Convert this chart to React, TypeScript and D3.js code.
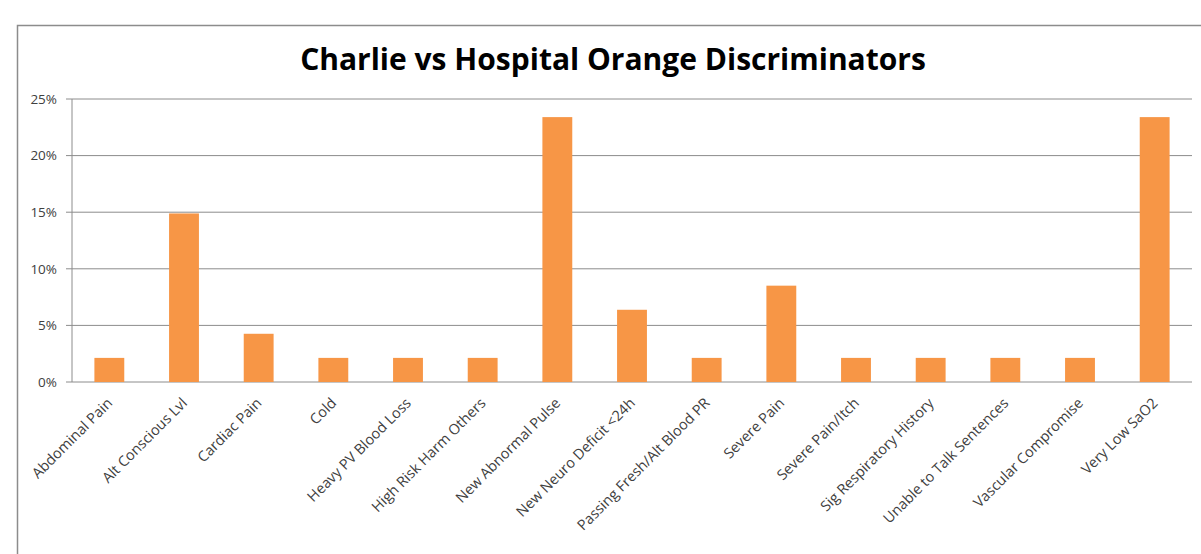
import React from "react";
import * as d3 from "d3";

// Share of orange-category discriminators, Charlie vs Hospital (percent)
const categories: string[] = [
  "Abdominal Pain",
  "Alt Conscious Lvl",
  "Cardiac Pain",
  "Cold",
  "Heavy PV Blood Loss",
  "High Risk Harm Others",
  "New Abnormal Pulse",
  "New Neuro Deficit <24h",
  "Passing Fresh/Alt Blood PR",
  "Severe Pain",
  "Severe Pain/Itch",
  "Sig Respiratory History",
  "Unable to Talk Sentences",
  "Vascular Compromise",
  "Very Low SaO2",
];

const shares: number[] = [
  2.13, 14.89, 4.26, 2.13, 2.13, 2.13, 23.4, 6.38, 2.13, 8.51, 2.13, 2.13, 2.13,
  2.13, 23.4,
];

const yTicks: number[] = [0, 5, 10, 15, 20, 25];

const title = "Charlie vs Hospital Orange Discriminators";

const W = 1201;
const H = 554;
const plot = { left: 72, right: 1192, top: 99, bottom: 382 };

const FONT = "'Open Sans', 'Liberation Sans', sans-serif";

export default function App() {
  const x = d3
    .scaleBand<string>()
    .domain(categories)
    .range([plot.left, plot.right])
    .paddingInner(0.6)
    .paddingOuter(0.3);

  const y = d3.scaleLinear().domain([0, 25]).range([plot.bottom, plot.top]);

  const fmt = (v: number) => `${v}%`;

  return (
    <svg
      width={W}
      height={H}
      viewBox={`0 0 ${W} ${H}`}
      style={{ position: "absolute", left: 0, top: 0, background: "#fff" }}
    >
      <rect x={0} y={0} width={W} height={H} fill="#fff" />
      {/* chart frame */}
      <rect
        x={17.5}
        y={25.5}
        width={1300}
        height={700}
        fill="#fff"
        stroke="#8c8c8c"
        strokeWidth={1.5}
      />

      <text
        x={613}
        y={70}
        textAnchor="middle"
        fontFamily={FONT}
        fontWeight={700}
        fontSize={30}
        fill="#000"
      >
        {title}
      </text>

      {/* gridlines and y-axis */}
      {yTicks.map((t) => (
        <g key={t}>
          <line
            x1={plot.left - 6}
            x2={plot.right}
            y1={y(t)}
            y2={y(t)}
            stroke="#8c8c8c"
            strokeWidth={1}
          />
          <text
            x={57}
            y={y(t)}
            dy="0.35em"
            textAnchor="end"
            fontFamily={FONT}
            fontSize={13.5}
            fill="#404040"
          >
            {fmt(t)}
          </text>
        </g>
      ))}
      <line
        x1={plot.left}
        x2={plot.left}
        y1={plot.top}
        y2={plot.bottom}
        stroke="#8c8c8c"
        strokeWidth={1}
      />

      {/* bars */}
      {categories.map((c, i) => (
        <rect
          key={c}
          x={x(c)!}
          y={y(shares[i])}
          width={x.bandwidth()}
          height={plot.bottom - y(shares[i])}
          fill="#F79646"
        />
      ))}

      {/* category labels */}
      {categories.map((c) => {
        const cx = x(c)! + x.bandwidth() / 2;
        const ax = cx + 4;
        const ay = plot.bottom + 22;
        return (
          <text
            key={c}
            x={ax}
            y={ay}
            transform={`rotate(-45 ${ax} ${ay})`}
            textAnchor="end"
            fontFamily={FONT}
            fontSize={14.5}
            fill="#404040"
          >
            {c}
          </text>
        );
      })}
    </svg>
  );
}
